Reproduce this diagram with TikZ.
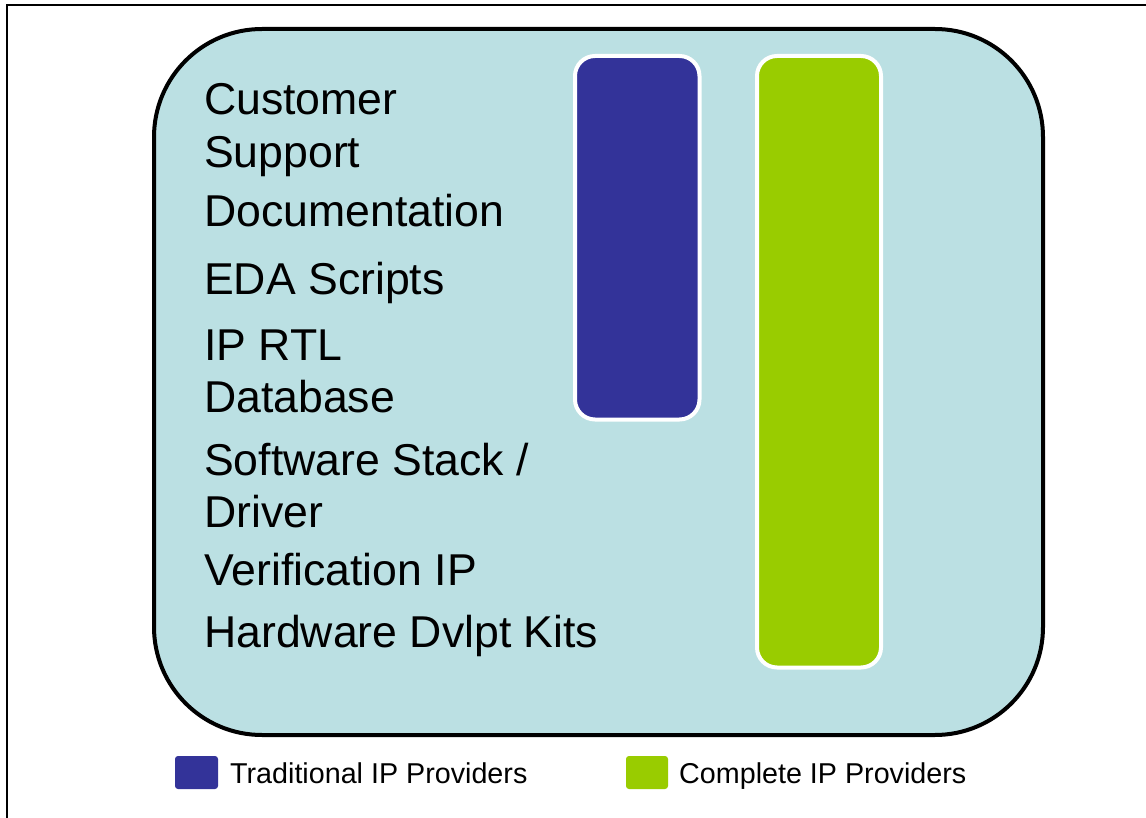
\documentclass[tikz,border=0pt]{standalone}
\usepackage{fontspec}
\setmainfont{Liberation Sans}
\definecolor{panel}{HTML}{BBE0E3}
\definecolor{tradblue}{HTML}{333399}
\definecolor{compgreen}{HTML}{99CC00}
\begin{document}
\begin{tikzpicture}[x=1pt,y=-1pt,
  item/.style={anchor=base west,inner sep=0pt,font=\fontsize{44.6}{50}\selectfont},
  legtext/.style={anchor=base west,inner sep=0pt,font=\fontsize{28.7}{32}\selectfont},
  bar/.style={draw=white,line width=4pt,rounded corners=20pt},
  legbox/.style={rounded corners=3pt}]
\useasboundingbox (0,0) rectangle (1146,818);
\fill[white] (0,0) rectangle (1146,818);
\draw[line width=2pt] (7,818) -- (7,5) -- (1146,5);
\draw[line width=4pt,fill=panel,rounded corners=108pt] (154,29) rectangle (1043,735);
\draw[bar,fill=tradblue] (575,56) rectangle (699.5,419.5);
\draw[bar,fill=compgreen] (757,56) rectangle (881,667.5);
\node[item] (t1) at (204,115) {Customer};
\node[item] (t2) at (204,168) {Support};
\node[item] (t3) at (204,227) {Documentation};
\node[item] (t4) at (204,295) {EDA Scripts};
\node[item] (t5) at (204,360) {IP RTL};
\node[item] (t6) at (204,412) {Database};
\node[item] (t7) at (204,475) {Software Stack /};
\node[item] (t8) at (204,527) {Driver};
\node[item] (t9) at (204,585) {Verification IP};
\node[item] (t10) at (204,647) {Hardware Dvlpt Kits};
\fill[legbox,tradblue] (175,756) rectangle (218,789);
\node[legtext] (l1) at (230,783) {Traditional IP Providers};
\fill[legbox,compgreen] (626,756) rectangle (668,789);
\node[legtext] (l2) at (679,783) {Complete IP Providers};
\end{tikzpicture}
\end{document}
